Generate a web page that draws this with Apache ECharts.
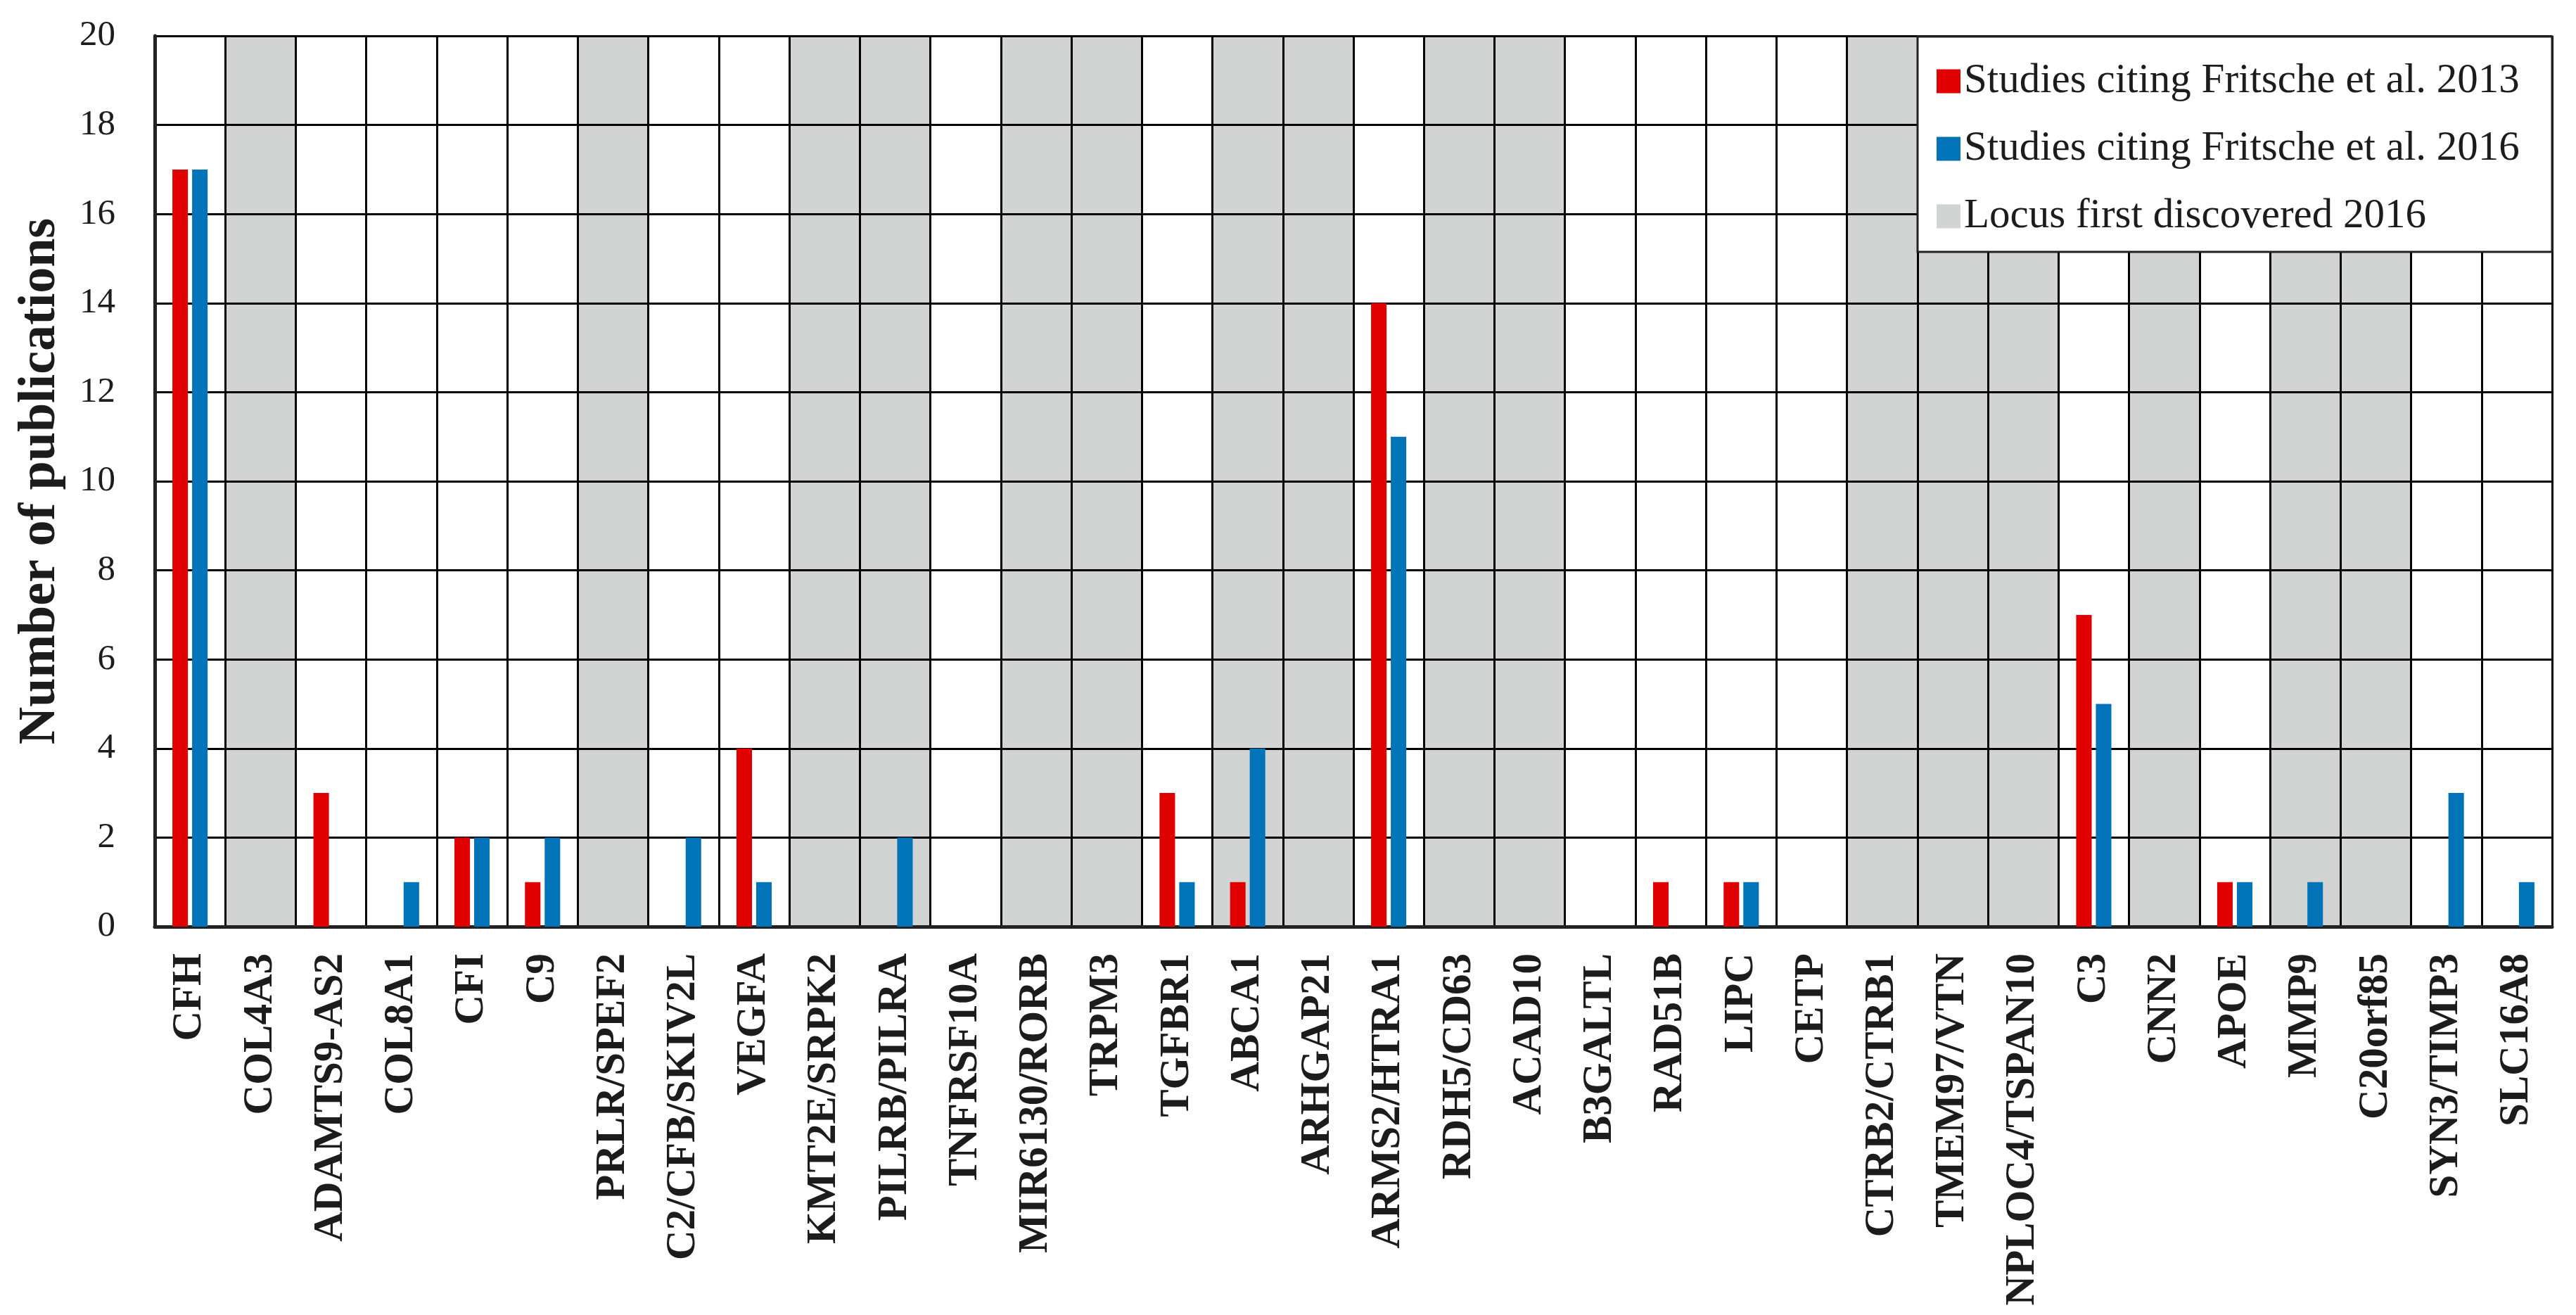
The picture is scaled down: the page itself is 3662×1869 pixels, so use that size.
<!DOCTYPE html>
<html>
<head>
<meta charset="utf-8">
<script src="https://cdn.jsdelivr.net/npm/echarts@6/dist/echarts.min.js"></script>
<style>
  html, body { margin: 0; padding: 0; background: #fff; }
  #chart { width: 3662px; height: 1869px; }
</style>
</head>
<body>
<div id="chart"></div>
<script>
// loci on the x axis
var genes = ['CFH', 'COL4A3', 'ADAMTS9-AS2', 'COL8A1', 'CFI', 'C9', 'PRLR/SPEF2', 'C2/CFB/SKIV2L',
  'VEGFA', 'KMT2E/SRPK2', 'PILRB/PILRA', 'TNFRSF10A', 'MIR6130/RORB', 'TRPM3', 'TGFBR1', 'ABCA1',
  'ARHGAP21', 'ARMS2/HTRA1', 'RDH5/CD63', 'ACAD10', 'B3GALTL', 'RAD51B', 'LIPC', 'CETP',
  'CTRB2/CTRB1', 'TMEM97/VTN', 'NPLOC4/TSPAN10', 'C3', 'CNN2', 'APOE', 'MMP9', 'C20orf85',
  'SYN3/TIMP3', 'SLC16A8'];
// number of publications
var cited2013 = [17, 0, 3, 0, 2, 1, 0, 0, 4, 0, 0, 0, 0, 0, 3, 1, 0, 14, 0, 0, 0, 1, 1, 0, 0, 0, 0, 7, 0, 1, 0, 0, 0, 0];
var cited2016 = [17, 0, 0, 1, 2, 2, 0, 2, 1, 0, 2, 0, 0, 0, 1, 4, 0, 11, 0, 0, 0, 0, 1, 0, 0, 0, 0, 5, 0, 1, 1, 0, 3, 1];
// 1 = locus first discovered 2016 (grey column)
var newLocus = [0, 1, 0, 0, 0, 0, 1, 0, 0, 1, 1, 0, 1, 1, 0, 1, 1, 0, 1, 1, 0, 0, 0, 0, 1, 1, 1, 0, 1, 0, 1, 1, 0, 0];
var yTicks = [0, 20, 2]; // min, max, step

var font = 'Liberation Serif';
var txt = '#1c1c1c';

var myChart = echarts.init(document.getElementById('chart'));

var option = {
    animation: false,
    backgroundColor: '#fff',
    grid: { left: 220, right: 34, top: 51, bottom: 552 },
    graphic: [{
        type: 'rect',
        z: 10,
        shape: { x: 2726, y: 52, width: 902, height: 306 },
        style: { fill: '#fff', stroke: '#222', lineWidth: 3 }
    }],
    legend: {
        z: 11,
        left: 2748,
        top: 81,
        orient: 'vertical',
        itemWidth: 34,
        itemHeight: 34,
        itemGap: 37,
        itemTextGap: 16,
        icon: 'rect',
        textStyle: { fontFamily: font, fontSize: 59, color: txt, lineHeight: 58 },
        data: ['Studies citing Fritsche et al. 2013', 'Studies citing Fritsche et al. 2016', 'Locus first discovered 2016']
    },
    xAxis: [{
        type: 'category',
        data: genes,
        z: 1.5,
        axisLine: { lineStyle: { color: '#222', width: 5 } },
        axisTick: { show: false },
        splitLine: { show: true, lineStyle: { color: '#000', width: 3 } },
        axisLabel: {
            rotate: 90, interval: 0, margin: 38,
            fontFamily: font, fontSize: 59, fontWeight: 'bold', color: txt
        }
    }, {
        type: 'category',
        data: genes,
        show: false
    }],
    yAxis: {
        type: 'value',
        min: yTicks[0], max: yTicks[1], interval: yTicks[2],
        z: 1.5,
        name: 'Number of publications',
        nameLocation: 'middle',
        nameRotate: 90,
        nameGap: 125,
        nameTextStyle: { fontFamily: font, fontSize: 74, fontWeight: 'bold', color: txt },
        axisLine: { show: true, lineStyle: { color: '#222', width: 5 } },
        axisTick: { show: false },
        splitLine: { show: true, lineStyle: { color: '#000', width: 3 } },
        axisLabel: { margin: 56, fontFamily: font, fontSize: 51, color: txt }
    },
    series: [{
        name: 'Studies citing Fritsche et al. 2013',
        type: 'bar',
        z: 2,
        barWidth: '22%',
        barGap: '27%',
        color: 'rgb(224,0,0)',
        data: cited2013
    }, {
        name: 'Studies citing Fritsche et al. 2016',
        type: 'bar',
        z: 2,
        barWidth: '22%',
        barGap: '27%',
        color: 'rgb(0,115,185)',
        data: cited2016
    }, {
        name: 'Locus first discovered 2016',
        type: 'bar',
        xAxisIndex: 1,
        z: 1,
        barWidth: '100%',
        color: 'rgb(210,211,211)',
        data: newLocus.map(function (f) { return f ? yTicks[1] : '-'; })
    }]
};

myChart.setOption(option);
</script>
</body>
</html>
